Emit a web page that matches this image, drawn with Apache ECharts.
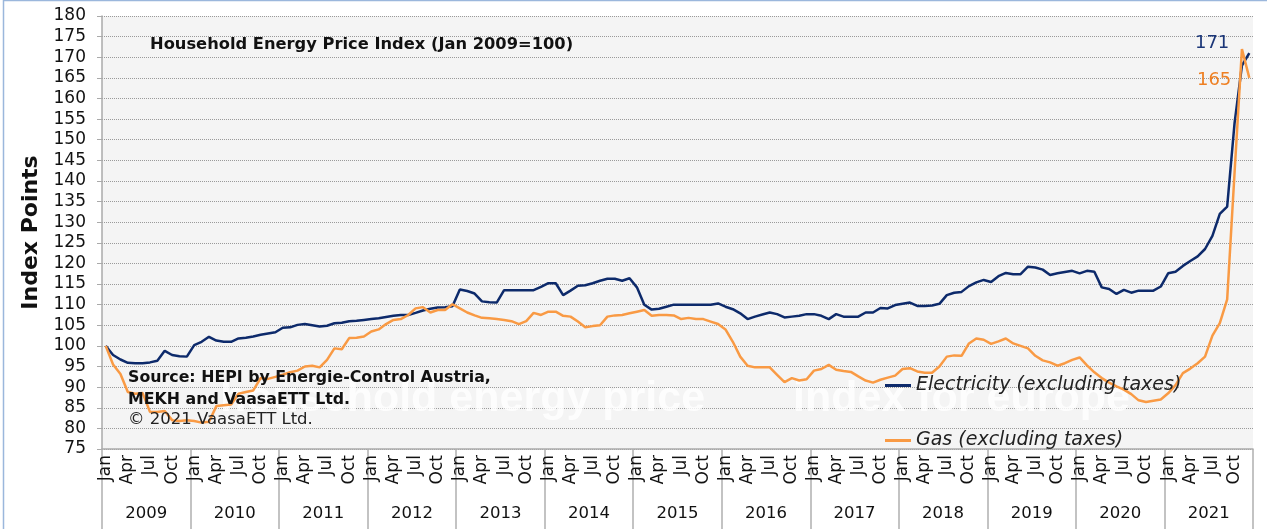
<!DOCTYPE html>
<html>
<head>
<meta charset="utf-8">
<title>Household Energy Price Index</title>
<script src="https://cdn.jsdelivr.net/npm/echarts@6/dist/echarts.min.js"></script>
<style>
  html, body { margin: 0; padding: 0; background: #fff; }
  #chart { width: 1267px; height: 529px; }
</style>
</head>
<body>
<div id="chart"></div>
<script>
// x axis: months and years
const monthNames = ["Jan", "Feb", "Mar", "Apr", "May", "Jun", "Jul", "Aug", "Sep", "Oct", "Nov", "Dec"]
const years = ["2009", "2010", "2011", "2012", "2013", "2014", "2015", "2016", "2017", "2018", "2019", "2020", "2021"]

// index points (Jan 2009 = 100), one value per month, Jan 2009 .. Dec 2021
const electricity = [
  100, 97.8, 96.7, 95.9, 95.8, 95.8, 96.0, 96.4, 98.8, 97.8, 97.5, 97.4,
  100.2, 101.0, 102.2, 101.3, 101.0, 101.0, 101.8, 102.0, 102.3, 102.7, 103.0, 103.3,
  104.4, 104.5, 105.1, 105.3, 105.0, 104.7, 104.9, 105.5, 105.6, 106.0, 106.1, 106.3,
  106.5, 106.7, 107.0, 107.3, 107.5, 107.5, 108.0, 108.6, 109.0, 109.3, 109.4, 109.6,
  113.7, 113.3, 112.7, 110.8, 110.6, 110.5, 113.5, 113.5, 113.5, 113.5, 113.5, 114.3,
  115.2, 115.2, 112.3, 113.4, 114.6, 114.7, 115.2, 115.8, 116.3, 116.3, 115.8, 116.4,
  114.2, 110.0, 108.8, 109.0, 109.5, 110.0, 110.0, 110.0, 110.0, 110.0, 110.0, 110.3,
  109.5, 108.9, 107.9, 106.5, 107.1, 107.6, 108.1, 107.7, 106.9, 107.1, 107.3, 107.7,
  107.7, 107.3, 106.5, 107.7, 107.1, 107.1, 107.1, 108.1, 108.1, 109.2, 109.1, 109.9,
  110.2, 110.5, 109.7, 109.7, 109.8, 110.2, 112.3, 112.9, 113.1, 114.5, 115.4, 116.0,
  115.5, 116.9, 117.7, 117.4, 117.4, 119.2, 119.0, 118.5, 117.2, 117.6, 117.9, 118.2,
  117.6, 118.2, 118.0, 114.2, 113.8, 112.6, 113.6, 112.9, 113.4, 113.4, 113.4, 114.4,
  117.6, 118.0, 119.4, 120.6, 121.7, 123.5, 126.7, 132.0, 133.8, 154.0, 168.0, 171.0
]
const gas = [
  100, 95.5, 93.2, 88.8, 88.4, 88.6, 84.0, 84.0, 84.2, 82.0, 81.8, 82.0,
  81.8, 81.4, 81.6, 85.4, 85.6, 85.8, 88.4, 88.8, 89.2, 92.2, 92.0, 92.5,
  93.0, 93.6, 94.0, 95.0, 95.2, 94.8, 96.6, 99.4, 99.2, 101.9, 102.0, 102.3,
  103.5, 104.0, 105.3, 106.3, 106.5, 107.5, 109.1, 109.4, 108.1, 108.7, 108.7, 110.1,
  109.1, 108.1, 107.4, 106.8, 106.7, 106.5, 106.3, 106.0, 105.3, 106.0, 108.0, 107.5,
  108.3, 108.3, 107.3, 107.1, 105.9, 104.5, 104.8, 105.0, 107.1, 107.4, 107.5, 107.9,
  108.3, 108.7, 107.3, 107.5, 107.5, 107.4, 106.5, 106.8, 106.5, 106.5, 105.9, 105.3,
  104.0, 101.0, 97.4, 95.2, 94.8, 94.8, 94.8, 93.0, 91.2, 92.2, 91.6, 91.9,
  94.0, 94.4, 95.4, 94.2, 93.9, 93.7, 92.6, 91.6, 91.1, 91.8, 92.3, 92.8,
  94.4, 94.6, 93.8, 93.5, 93.5, 95.0, 97.4, 97.7, 97.6, 100.6, 101.8, 101.5,
  100.5, 101.1, 101.8, 100.6, 100.0, 99.4, 97.6, 96.5, 96.0, 95.2, 95.8, 96.6,
  97.2, 95.3, 93.6, 92.2, 91.1, 90.2, 89.4, 88.3, 86.8, 86.4, 86.7, 87.0,
  88.5, 90.5, 93.4, 94.5, 95.8, 97.4, 102.5, 105.5, 111.3, 142.0, 172.0, 165.0
]

const categories = []
years.forEach(y => monthNames.forEach(m => categories.push(m + " " + y)))

const elecColor = "#0d2a6b"
const gasColor = "#f99a44"
const labelFont = "DejaVu Sans"

const chart = echarts.init(document.getElementById("chart"))
chart.setOption({
  animation: false,
  backgroundColor: "#fff",
  title: {
    text: "Household Energy Price Index (Jan 2009=100)",
    left: 145,
    top: 32,
    textStyle: { fontFamily: labelFont, fontSize: 16.3, fontWeight: "bold", color: "#111" }
  },
  legend: {
    orient: "vertical",
    left: 885,
    top: 376,
    padding: 0,
    itemGap: 36,
    itemWidth: 26,
    itemHeight: 3,
    itemTextGap: 4,
    icon: "rect",
    textStyle: { fontFamily: labelFont, fontStyle: "italic", fontSize: 19, color: "#222" },
    data: ["Electricity (excluding taxes)", "Gas (excluding taxes)"]
  },
  grid: {
    left: 102,
    right: 14,
    top: 16,
    bottom: 80,
    show: true,
    backgroundColor: "#f4f4f4",
    borderWidth: 0
  },
  graphic: [
    {
      type: "rect",
      z: -10,
      shape: { x: 3.5, y: 0.5, width: 1270, height: 540 },
      style: { fill: "none", stroke: "#9bb7dc", lineWidth: 1.5 }
    },
    {
      type: "text",
      left: 220,
      top: 378,
      z: 1,
      style: { text: "household energy price", fill: "rgba(255,255,255,0.8)", font: "bold 43px Liberation Sans" }
    },
    {
      type: "text",
      left: 793,
      top: 378,
      z: 1,
      style: { text: "index for europe", fill: "rgba(255,255,255,0.8)", font: "bold 43px Liberation Sans" }
    },
    {
      type: "text",
      left: 128,
      top: 367,
      z: 5,
      style: {
        text: "Source: HEPI by Energie-Control Austria,\nMEKH and VaasaETT Ltd.",
        fill: "#111",
        font: "bold 15.8px DejaVu Sans",
        lineHeight: 22
      }
    },
    {
      type: "text",
      left: 128,
      top: 411,
      z: 5,
      style: { text: "© 2021 VaasaETT Ltd.", fill: "#222", font: "16.5px DejaVu Sans" }
    }
  ],
  xAxis: [
    {
      type: "category",
      data: categories,
      boundaryGap: true,
      axisLine: { lineStyle: { color: "#aaaaaa", width: 1.5 } },
      axisTick: { show: false },
      axisLabel: {
        interval: 2,
        rotate: 90,
        margin: 6,
        fontFamily: labelFont,
        fontSize: 17,
        color: "#111",
        formatter: v => v.slice(0, 3)
      },
      splitLine: { show: false }
    },
    {
      type: "category",
      data: years,
      position: "bottom",
      boundaryGap: true,
      axisLine: { show: false },
      axisTick: { show: true, interval: 0, length: 80, lineStyle: { color: "#b0b0b0", width: 1.5 } },
      axisLabel: { interval: 0, margin: 56, fontFamily: labelFont, fontSize: 16.5, color: "#111" },
      splitLine: { show: false }
    }
  ],
  yAxis: {
    type: "value",
    min: 75,
    max: 180,
    interval: 5,
    name: "Index Points",
    nameLocation: "middle",
    nameRotate: 90,
    nameGap: 51,
    nameTextStyle: { fontFamily: labelFont, fontSize: 22, fontWeight: "bold", color: "#111" },
    axisLine: { show: true, lineStyle: { color: "#aaaaaa", width: 1.5 } },
    axisTick: { show: true, length: 5, lineStyle: { color: "#aaaaaa" } },
    axisLabel: { margin: 16, fontFamily: labelFont, fontSize: 17, color: "#111" },
    splitLine: { lineStyle: { color: "#9a9a9a", type: "dotted", width: 1 } }
  },
  series: [
    {
      name: "Electricity (excluding taxes)",
      type: "line",
      data: electricity,
      showSymbol: false,
      z: 3,
      lineStyle: { color: elecColor, width: 2.5 },
      itemStyle: { color: elecColor },
      endLabel: {
        show: true,
        formatter: p => String(Math.round(p.value)),
        align: "right",
        distance: 0,
        offset: [-20, -10],
        fontFamily: labelFont,
        fontSize: 18,
        color: "#1b3678"
      }
    },
    {
      name: "Gas (excluding taxes)",
      type: "line",
      data: gas,
      showSymbol: false,
      z: 3,
      lineStyle: { color: gasColor, width: 2.5 },
      itemStyle: { color: gasColor },
      endLabel: {
        show: true,
        formatter: p => String(Math.round(p.value)),
        align: "right",
        distance: 0,
        offset: [-18, 2],
        fontFamily: labelFont,
        fontSize: 18,
        color: "#ee7f22"
      }
    }
  ]
})
</script>
</body>
</html>
